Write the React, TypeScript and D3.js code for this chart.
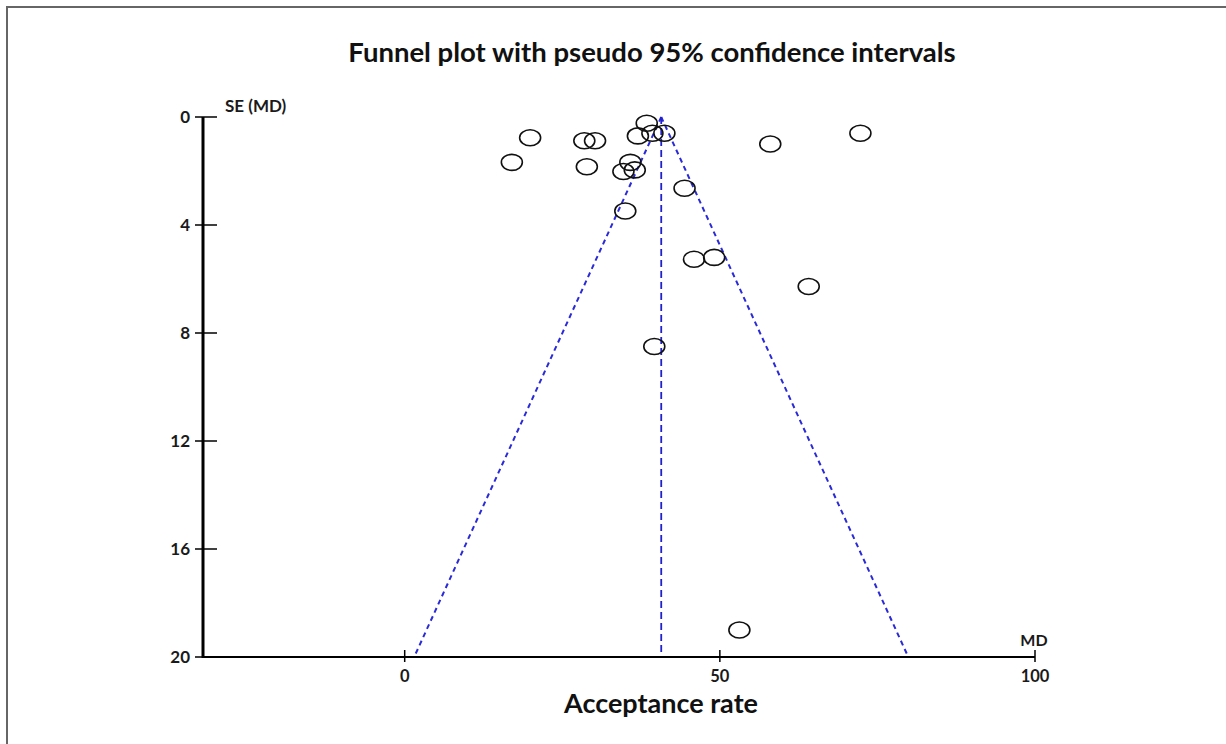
import React from 'react';
import * as d3 from 'd3';

// study estimates (MD) and their standard errors
const md = [19.9, 28.5, 30.2, 38.4, 37.0, 39.3, 41.2, 58.0, 72.3, 17.0, 28.9, 35.8, 36.5, 34.7, 44.4, 35.0, 45.9, 49.1, 64.1, 39.6, 53.1];
const se = [0.77, 0.88, 0.88, 0.23, 0.70, 0.60, 0.60, 1.0, 0.60, 1.68, 1.84, 1.68, 1.96, 2.02, 2.64, 3.48, 5.27, 5.2, 6.28, 8.5, 19.0];
const pooled = 40.7;
const xTicks = [0, 50, 100];
const yTicks = [0, 4, 8, 12, 16, 20];

const W = 1226;
const H = 744;
const font = 'Lato, "Open Sans", sans-serif';

const App = () => {
  const x = d3.scaleLinear().domain([-32, 100]).range([203, 1035]);
  const y = d3.scaleLinear().domain([0, 20]).range([117, 657]);

  const seMax = 20;
  const left = [
    [pooled, 0],
    [pooled - 1.96 * seMax, seMax],
  ];
  const right = [
    [pooled, 0],
    [pooled + 1.96 * seMax, seMax],
  ];
  const line = d3
    .line<number[]>()
    .x((d) => x(d[0]))
    .y((d) => y(d[1]));

  return (
    <div style={{ position: 'fixed', left: 0, top: 0 }}>
      <svg width={W} height={H} style={{ display: 'block', background: '#fff' }}>
        {/* frame */}
        <path d={`M7,${H + 5}V7H${W + 5}`} fill="none" stroke="#666" strokeWidth={2} />

        <text x={652} y={62} textAnchor="middle" fontFamily={font} fontWeight="bold" fontSize={27.5} fill="#111">
          Funnel plot with pseudo 95% confidence intervals
        </text>

        {/* pseudo CI and pooled line */}
        <path d={line(left) ?? ''} fill="none" stroke="#2a2ad8" strokeWidth={2} strokeDasharray="5,4" />
        <path d={line(right) ?? ''} fill="none" stroke="#2a2ad8" strokeWidth={2} strokeDasharray="5,4" />
        <line x1={x(pooled)} x2={x(pooled)} y1={y(0)} y2={y(20)} stroke="#2020d0" strokeWidth={1.8} strokeDasharray="7,4" />

        {/* studies */}
        {md.map((m, i) => (
          <ellipse key={i} cx={x(m)} cy={y(se[i])} rx={10.5} ry={8} fill="none" stroke="#111" strokeWidth={1.6} />
        ))}

        {/* y axis */}
        <line x1={x(-32)} x2={x(-32)} y1={y(0)} y2={y(20) + 1} stroke="#000" strokeWidth={3} />
        {yTicks.map((t) => (
          <g key={t}>
            <line x1={195} x2={217} y1={y(t)} y2={y(t)} stroke="#000" strokeWidth={1.5} />
            <text x={190} y={y(t) + 6} textAnchor="end" fontFamily={font} fontWeight="bold" fontSize={17} fill="#1a1a1a">
              {t}
            </text>
          </g>
        ))}
        <text x={225} y={112} fontFamily={font} fontWeight="bold" fontSize={17} fill="#1a1a1a">
          SE (MD)
        </text>

        {/* x axis */}
        <line x1={x(-32)} x2={x(100)} y1={y(20)} y2={y(20)} stroke="#000" strokeWidth={2} />
        {xTicks.map((t) => (
          <g key={t}>
            <line x1={x(t)} x2={x(t)} y1={y(20) - 7} y2={y(20) + 5} stroke="#000" strokeWidth={1.5} />
            <text x={x(t)} y={682} textAnchor="middle" fontFamily={font} fontWeight="bold" fontSize={16.5} fill="#1a1a1a">
              {t}
            </text>
          </g>
        ))}
        <text x={1034} y={646} textAnchor="middle" fontFamily={font} fontWeight="bold" fontSize={16} fill="#1a1a1a">
          MD
        </text>
        <text x={661} y={713} textAnchor="middle" fontFamily={font} fontWeight="bold" fontSize={27} fill="#111">
          Acceptance rate
        </text>
      </svg>
    </div>
  );
};

export default App;
